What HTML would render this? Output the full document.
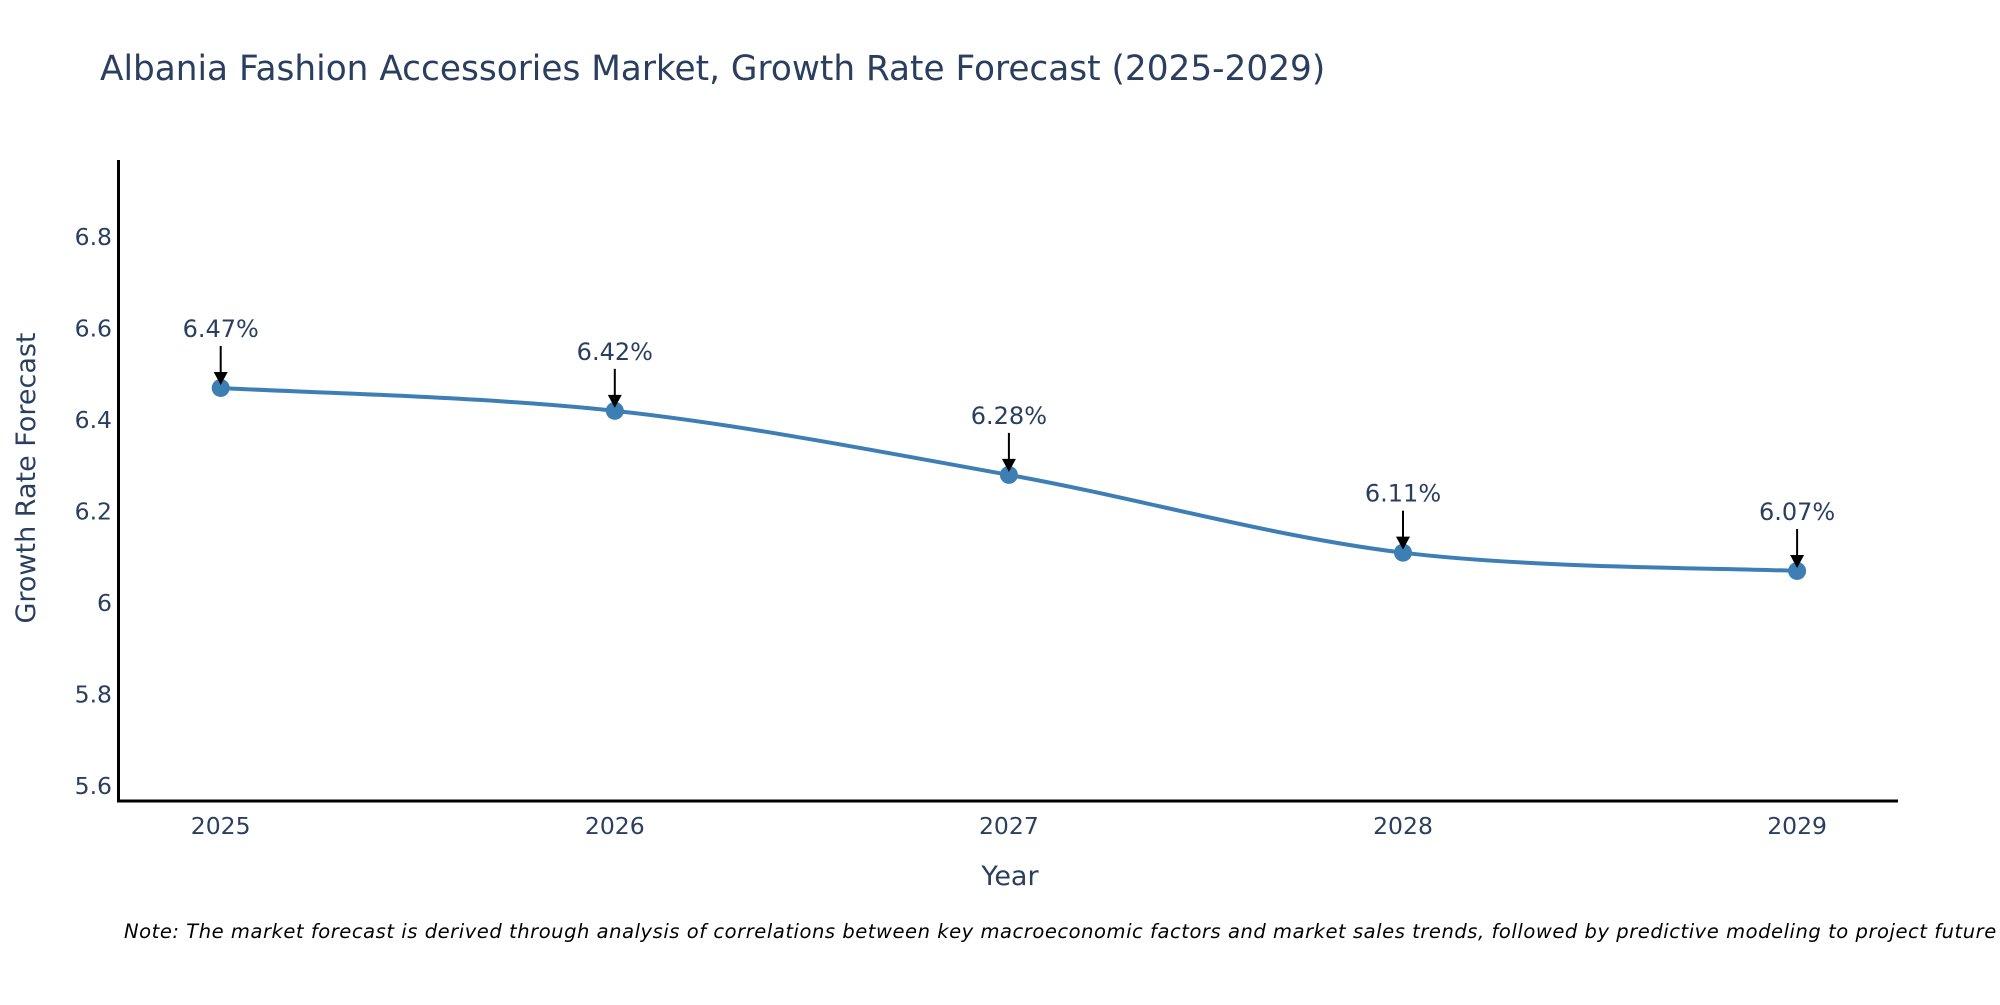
<!DOCTYPE html>
<html><head><meta charset="utf-8"><style>
body{margin:0;background:#fff;}
svg text{font-family:"DejaVu Sans","Liberation Sans",sans-serif;fill:#2a3f5f;}
</style></head><body>
<svg id="chart" width="2000" height="1000" xmlns="http://www.w3.org/2000/svg">
<text x="100" y="80" font-size="34.3">Albania Fashion Accessories Market, Growth Rate Forecast (2025-2029)</text>
<g id="yticks"></g>
<g id="xticks"></g>
<line x1="118.5" y1="160" x2="118.5" y2="802" stroke="#000" stroke-width="3"/>
<line x1="117" y1="801" x2="1898" y2="801" stroke="#000" stroke-width="3"/>
<text transform="translate(35,478) rotate(-90)" text-anchor="middle" font-size="27">Growth Rate Forecast</text>
<text x="1010" y="885" text-anchor="middle" font-size="27">Year</text>
<path id="line" fill="none" stroke="#3d7fb5" stroke-width="4"/>
<g id="points"></g>
<g id="labels"></g>
<text x="124" y="938" font-size="19.5" font-style="italic" letter-spacing="0.55" style="fill:#000">Note: The market forecast is derived through analysis of correlations between key macroeconomic factors and market sales trends, followed by predictive modeling to project future sales.</text>
</svg>
<script>
const years = ["2025","2026","2027","2028","2029"];
const values = [6.47, 6.42, 6.28, 6.11, 6.07];
const yTicks = [5.6, 5.8, 6, 6.2, 6.4, 6.6, 6.8];
const yTickLabels = ["5.6","5.8","6","6.2","6.4","6.6","6.8"];
const NS="http://www.w3.org/2000/svg";
function xScale(i){return 220.7+i*394.1;}
function yScale(v){return 603-(v-6)*457.5;}
function mk(tag,attrs,parent){const e=document.createElementNS(NS,tag);for(const k in attrs)e.setAttribute(k,attrs[k]);parent.appendChild(e);return e;}
const yt=document.getElementById('yticks');
yTicks.forEach((v,i)=>{const t=mk('text',{x:112,y:yScale(v)+8,'text-anchor':'end','font-size':23.5},yt);


t.textContent=yTickLabels[i];});
const xt=document.getElementById('xticks');
years.forEach((y,i)=>{const t=mk('text',{x:xScale(i),y:834,'text-anchor':'middle','font-size':23.5},xt);


t.textContent=y;});
const pts=values.map((v,i)=>[xScale(i),yScale(v)]);
let d=`M${pts[0][0]},${pts[0][1]}`;
for(let i=0;i<pts.length-1;i++){const p0=pts[Math.max(0,i-1)],p1=pts[i],p2=pts[i+1],p3=pts[Math.min(pts.length-1,i+2)];
const s=1/6;
const c1=[p1[0]+(p2[0]-p0[0])*s,p1[1]+(p2[1]-p0[1])*s];
const c2=[p2[0]-(p3[0]-p1[0])*s,p2[1]-(p3[1]-p1[1])*s];
d+=` C${c1[0]},${c1[1]} ${c2[0]},${c2[1]} ${p2[0]},${p2[1]}`;}
document.getElementById('line').setAttribute('d',d);
const pg=document.getElementById('points'),lg=document.getElementById('labels');
pts.forEach((p,i)=>{const c=mk('circle',{cx:p[0],cy:p[1],r:9,fill:'#3d7fb5'},pg);


const l=mk('line',{x1:p[0],y1:p[1]-42,x2:p[0],y2:p[1]-14,stroke:'#000','stroke-width':2},lg);


const h=mk('polygon',{points:`${p[0]-7},${p[1]-16} ${p[0]+7},${p[1]-16} ${p[0]},${p[1]-3}`,fill:'#000'},lg);


const t=mk('text',{x:p[0],y:p[1]-51,'text-anchor':'middle','font-size':24},lg);


t.textContent=values[i].toFixed(2)+'%';});
</script>
</body></html>
